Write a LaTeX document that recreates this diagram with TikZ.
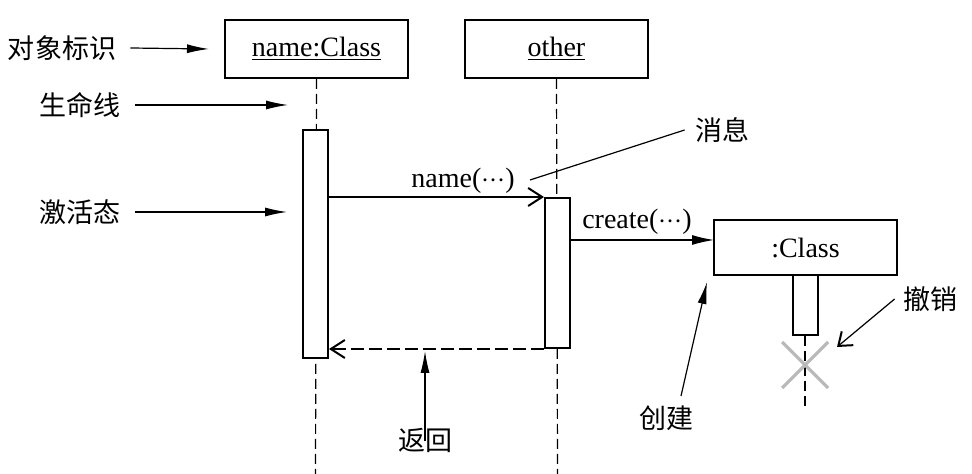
\documentclass[tikz,border=0pt]{standalone}
\usepackage{fontspec}
\setmainfont{Liberation Serif}
\newfontfamily\cjk{Noto Sans CJK SC}
\usetikzlibrary{arrows.meta}
\tikzset{>=Latex}

\begin{document}
\begin{tikzpicture}[x=0.5pt,y=-0.5pt]
                % obj = object box, act = activation bar, lab = label
                \tikzstyle{every node}=[font=\fontsize{14}{16}\selectfont, inner sep=0pt]
                \tikzstyle{obj}=[draw, line width=1pt, fill=white, minimum width=91.5pt, minimum height=29pt]
                \tikzstyle{act}=[draw, line width=1pt, fill=white, minimum width=12.5pt]
                \tikzstyle{lab}=[font=\cjk\fontsize{13.5}{16}\selectfont]
                \tikzstyle{life}=[line width=0.6pt, dash pattern=on 5pt off 2.5pt]
                \tikzstyle{msg}=[line width=0.6pt, -{Straight Barb[length=7pt, width=9pt, line width=1pt]}]
                \tikzstyle{note}=[line width=0.6pt, -{Latex[length=11pt, width=4.5pt]}]
                \useasboundingbox (0,0) rectangle (972,474);
                \node[obj] (obj1) at (316.5,49) {\underline{name:Class}};
                \node[obj] (obj2) at (556.5,49) {\underline{other}};
                \coordinate (end1) at (315.5,474);
                \coordinate (end2) at (557.5,474);
                \draw[life] (obj1.south) -- (end1);
                \draw[life] (obj2.south) -- (end2);
                \node[act, minimum height=114pt] (act1) at (315.5,244) {};
                \node[act, minimum height=75pt] (act2) at (557.5,273) {};
                \node[obj, minimum height=27.5pt] (obj3) at (805.5,247.5) {:Class};
                \node[act, minimum height=30pt] (act3) at (805,305) {};
                \coordinate (end3) at (805,408);
                \draw[life] (act3.south) -- (end3);
                % destroy mark
                \draw[gray!55, line width=1.6pt] (782,342) -- (828,388) (782,388) -- (828,342);
                % messages
                \draw[msg] (act1.east |- act2.north west) -- (act2.north west);
                \node (m1) at (463,181) {name(${\cdot}{\cdot}{\cdot}$)};
                \coordinate (c1) at (570,240);
                \coordinate (c2) at (714,240);
                \draw[line width=0.6pt, -{Latex[length=11pt, width=5pt]}] (c1) -- (c2);
                \node (m2) at (637,222) {create(${\cdot}{\cdot}{\cdot}$)};
                \draw[msg, dash pattern=on 6.5pt off 2.5pt] (act2.south west) -- (act1.east |- act2.south west);
                % labels
                \node[lab] (l1) at (62,48) {对象标识};
                \draw[note] (l1.east) ++(7pt,0) -- ([xshift=-7.5pt]obj1.west);
                \node[lab] (l2) at (80,105) {生命线};
                \coordinate (ll) at (288,105);
                \draw[note] ([xshift=7pt]l2.east) -- (ll);
                \node[lab] (l3) at (80,212) {激活态};
                \draw[note, shorten >=7.5pt] ([xshift=7pt]l3.east) -- (l3.east -| act1.west);
                \node[lab] (l4) at (722,130) {消息};
                \coordinate (mm) at (530,180);
                \draw[line width=0.6pt] ([xshift=-5pt]l4.west) -- (mm);
                \node[lab] (l5) at (425,440) {返回};
                \draw[note, shorten >=1pt] ([yshift=-7pt]l5.north) -- (l5.north |- act2.south);
                \node[lab] (l6) at (666,418) {创建};
                \coordinate (cc) at (707,282);
                \draw[note] (681,396) -- (cc);
                \node[lab] (l7) at (930,299) {撤销};
                \coordinate (dd) at (837,347);
                \draw[line width=0.6pt, -{Straight Barb[length=6pt, width=9pt, line width=1pt]}] ([xshift=-4pt]l7.west) -- (dd);
\end{tikzpicture}
\end{document}
